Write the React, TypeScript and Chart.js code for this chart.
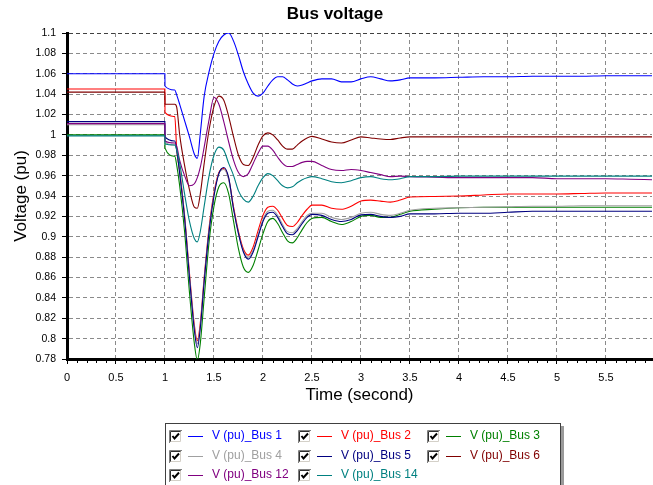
import React, { useEffect, useRef } from 'react';
import { Chart, registerables } from 'chart.js';

Chart.register(...registerables);

const TITLE = 'Bus voltage';
const X_TITLE = 'Time (second)';
const Y_TITLE = 'Voltage (pu)';

const TIME = [0, 0.999, 1.0, 1.1, 1.12, 1.15, 1.2, 1.25, 1.3, 1.33, 1.36, 1.4, 1.45, 1.5, 1.55, 1.6, 1.65, 1.7, 1.75, 1.8, 1.85, 1.9, 1.95, 2.0, 2.05, 2.1, 2.15, 2.2, 2.25, 2.3, 2.35, 2.4, 2.45, 2.5, 2.6, 2.7, 2.8, 2.9, 3.0, 3.1, 3.2, 3.3, 3.4, 3.5, 3.75, 4.0, 4.25, 4.5, 4.75, 5.0, 5.25, 5.5, 5.75, 5.97];

const BUS1 = [1.06, 1.06, 1.048, 1.044, 1.039, 1.030, 1.014, 0.998, 0.981, 0.977, 1.001, 1.038, 1.062, 1.080, 1.092, 1.098, 1.100, 1.092, 1.078, 1.062, 1.050, 1.041, 1.038, 1.041, 1.048, 1.054, 1.057, 1.057, 1.054, 1.050, 1.048, 1.049, 1.051, 1.053, 1.055, 1.055, 1.052, 1.052, 1.055, 1.057, 1.055, 1.053, 1.054, 1.056, 1.056, 1.0565, 1.057, 1.057, 1.0575, 1.0575, 1.0575, 1.058, 1.058, 1.058];
const BUS2 = [1.045, 1.045, 1.022, 1.018, 0.985, 0.965, 0.921, 0.864, 0.813, 0.798, 0.815, 0.860, 0.909, 0.943, 0.963, 0.967, 0.957, 0.929, 0.905, 0.888, 0.882, 0.890, 0.906, 0.921, 0.929, 0.930, 0.926, 0.918, 0.911, 0.910, 0.914, 0.921, 0.927, 0.931, 0.931, 0.928, 0.927, 0.930, 0.935, 0.936, 0.935, 0.934, 0.936, 0.939, 0.9395, 0.940, 0.941, 0.942, 0.942, 0.942, 0.9425, 0.943, 0.943, 0.943];
const BUS3 = [1.0, 1.0, 0.987, 0.979, 0.970, 0.950, 0.905, 0.845, 0.795, 0.779, 0.795, 0.840, 0.895, 0.930, 0.949, 0.953, 0.942, 0.915, 0.888, 0.870, 0.865, 0.872, 0.887, 0.903, 0.915, 0.918, 0.913, 0.904, 0.896, 0.894, 0.899, 0.907, 0.914, 0.918, 0.919, 0.915, 0.912, 0.915, 0.920, 0.921, 0.919, 0.919, 0.922, 0.925, 0.927, 0.9285, 0.929, 0.929, 0.929, 0.929, 0.929, 0.929, 0.929, 0.929];
const BUS4 = [1.010, 1.010, 0.993, 0.990, 0.984, 0.963, 0.919, 0.862, 0.810, 0.795, 0.812, 0.858, 0.907, 0.941, 0.962, 0.966, 0.956, 0.927, 0.903, 0.886, 0.880, 0.887, 0.902, 0.917, 0.925, 0.926, 0.921, 0.912, 0.905, 0.904, 0.908, 0.915, 0.921, 0.923, 0.923, 0.919, 0.917, 0.919, 0.923, 0.924, 0.922, 0.921, 0.923, 0.926, 0.928, 0.9285, 0.929, 0.9295, 0.930, 0.930, 0.9305, 0.9305, 0.9305, 0.9305];
const BUS5 = [1.013, 1.013, 0.998, 0.994, 0.985, 0.962, 0.918, 0.860, 0.808, 0.791, 0.810, 0.856, 0.905, 0.940, 0.962, 0.968, 0.958, 0.927, 0.903, 0.885, 0.878, 0.885, 0.900, 0.915, 0.923, 0.924, 0.919, 0.910, 0.903, 0.902, 0.906, 0.913, 0.919, 0.922, 0.921, 0.917, 0.915, 0.917, 0.9215, 0.922, 0.920, 0.919, 0.920, 0.9225, 0.9225, 0.923, 0.923, 0.924, 0.925, 0.925, 0.925, 0.925, 0.925, 0.925];
const BUS6 = [1.042, 1.042, 1.030, 1.030, 1.027, 1.000, 0.970, 0.946, 0.929, 0.928, 0.942, 0.972, 1.005, 1.028, 1.038, 1.034, 1.018, 0.998, 0.980, 0.971, 0.970, 0.978, 0.990, 0.999, 1.002, 1.000, 0.995, 0.989, 0.986, 0.986, 0.990, 0.994, 0.997, 0.9985, 0.996, 0.993, 0.992, 0.995, 0.998, 0.997, 0.996, 0.9955, 0.997, 0.998, 0.998, 0.998, 0.998, 0.998, 0.998, 0.998, 0.998, 0.998, 0.998, 0.998];
const BUS12 = [1.011, 1.011, 0.994, 0.992, 0.989, 0.975, 0.960, 0.950, 0.952, 0.958, 0.968, 0.988, 1.015, 1.037, 1.030, 1.013, 0.993, 0.975, 0.963, 0.959, 0.962, 0.972, 0.982, 0.989, 0.989, 0.985, 0.978, 0.972, 0.969, 0.969, 0.971, 0.973, 0.974, 0.974, 0.970, 0.966, 0.965, 0.966, 0.965, 0.963, 0.961, 0.959, 0.9595, 0.959, 0.9585, 0.958, 0.958, 0.958, 0.958, 0.957, 0.957, 0.957, 0.9565, 0.956];
const BUS14 = [0.999, 0.999, 0.991, 0.990, 0.985, 0.972, 0.942, 0.915, 0.898, 0.895, 0.905, 0.930, 0.960, 0.980, 0.988, 0.985, 0.972, 0.960, 0.945, 0.937, 0.934, 0.940, 0.950, 0.958, 0.962, 0.960, 0.955, 0.950, 0.948, 0.949, 0.953, 0.956, 0.958, 0.959, 0.957, 0.954, 0.953, 0.955, 0.958, 0.959, 0.957, 0.956, 0.957, 0.959, 0.959, 0.9595, 0.9595, 0.9595, 0.9595, 0.9595, 0.9595, 0.9595, 0.9595, 0.9595];

const LABELS = ['V (pu)_Bus 1', 'V (pu)_Bus 2', 'V (pu)_Bus 3', 'V (pu)_Bus 4', 'V (pu)_Bus 5', 'V (pu)_Bus 6', 'V (pu)_Bus 12', 'V (pu)_Bus 14'];
const VALUES = [BUS1, BUS2, BUS3, BUS4, BUS5, BUS6, BUS12, BUS14];
const COLORS = ['#0000ff', '#ff0000', '#008000', '#a0a0a0', '#000080', '#800000', '#800080', '#008080'];

const X_MIN = 0;
const X_MAX = 5.97;
const X_STEP = 0.5;
const Y_MIN = 0.78;
const Y_MAX = 1.1;
const Y_STEP = 0.02;

const FONT = '"Liberation Sans", Arial, sans-serif';

const decorPlugin = {
  id: 'decor',
  afterDraw(chart: any) {
    const { ctx, chartArea, scales } = chart;
    ctx.save();
    // title
    ctx.font = `bold 17px ${FONT}`;
    ctx.fillStyle = '#000';
    ctx.textAlign = 'center';
    ctx.textBaseline = 'alphabetic';
    ctx.fillText(TITLE, 335, 19);

    // minor x ticks
    const xs = scales.x;
    ctx.strokeStyle = '#000';
    ctx.lineWidth = 1;
    for (let i = 1; i * 0.1 <= xs.max + 1e-9; i++) {
      if (i % 5 === 0) continue;
      const px = Math.round(xs.getPixelForValue(i * 0.1)) + 0.5;
      ctx.beginPath();
      ctx.moveTo(px, chartArea.bottom + 1);
      ctx.lineTo(px, chartArea.bottom + 4);
      ctx.stroke();
    }

    // legend box
    const bx = 165, by = 423, bw = 395, bh = 80;
    ctx.fillStyle = '#9a9a9a';
    ctx.fillRect(bx + bw + 1, by + 3, 3, bh);
    ctx.fillStyle = '#ffffff';
    ctx.fillRect(bx, by, bw, bh);
    ctx.strokeStyle = '#404040';
    ctx.lineWidth = 1;
    ctx.strokeRect(bx + 0.5, by + 0.5, bw, bh);

    const ds = chart.data.datasets;
    ctx.font = `12px ${FONT}`;
    ctx.textAlign = 'left';
    ctx.textBaseline = 'middle';
    ds.forEach((d: any, i: number) => {
      const col = i % 3;
      const row = Math.floor(i / 3);
      const cx = 169 + col * 129;
      const cyi = Math.round(430 + row * 19.5);
      // checkbox
      ctx.fillStyle = '#ffffff';
      ctx.fillRect(cx, cyi, 13, 13);
      ctx.strokeStyle = '#808080';
      ctx.beginPath();
      ctx.moveTo(cx + 0.5, cyi + 13);
      ctx.lineTo(cx + 0.5, cyi + 0.5);
      ctx.lineTo(cx + 13, cyi + 0.5);
      ctx.stroke();
      ctx.strokeStyle = '#303030';
      ctx.beginPath();
      ctx.moveTo(cx + 1.5, cyi + 12);
      ctx.lineTo(cx + 1.5, cyi + 1.5);
      ctx.lineTo(cx + 12, cyi + 1.5);
      ctx.stroke();
      ctx.strokeStyle = '#d4d0c8';
      ctx.beginPath();
      ctx.moveTo(cx + 1.5, cyi + 11.5);
      ctx.lineTo(cx + 11.5, cyi + 11.5);
      ctx.lineTo(cx + 11.5, cyi + 1.5);
      ctx.stroke();
      ctx.strokeStyle = '#000';
      ctx.lineWidth = 2;
      ctx.beginPath();
      ctx.moveTo(cx + 3.5, cyi + 6);
      ctx.lineTo(cx + 5.5, cyi + 8.5);
      ctx.lineTo(cx + 10, cyi + 3.5);
      ctx.stroke();
      ctx.lineWidth = 1;
      // line sample
      ctx.strokeStyle = d.borderColor;
      ctx.beginPath();
      ctx.moveTo(cx + 19, cyi + 6.5);
      ctx.lineTo(cx + 34, cyi + 6.5);
      ctx.stroke();
      // text
      ctx.fillStyle = d.borderColor;
      ctx.fillText(d.label, cx + 43, cyi + 6);
    });
    ctx.restore();
  },
};

export default function App() {
  const ref = useRef<HTMLCanvasElement | null>(null);
  useEffect(() => {
    document.body.style.margin = '0';
    const canvas = ref.current;
    if (!canvas) return;
    const datasets = LABELS.map((label, i) => ({
      label,
      data: TIME.map((t, j) => ({ x: t, y: VALUES[i][j] })),
      borderColor: COLORS[i],
      backgroundColor: COLORS[i],
      borderWidth: 1.1,
      pointRadius: 0,
      fill: false,
      order: LABELS.length - i,
      cubicInterpolationMode: 'monotone' as const,
    }));
    const gridColor = (c: any) => (c.tick && Math.abs(c.tick.value - Y_MAX) < 1e-6 ? '#404040' : '#8a8a8a');
    const chart = new Chart(canvas, {
      type: 'line',
      data: { datasets },
      options: {
        responsive: false,
        animation: false,
        devicePixelRatio: 1,
        layout: { padding: { top: 33, right: 1, bottom: 79, left: 0 } },
        plugins: {
          legend: { display: false },
          title: { display: false },
          tooltip: { enabled: false },
        },
        scales: {
          x: {
            type: 'linear',
            min: X_MIN,
            max: X_MAX,
            afterFit: (s: any) => { s.height = 47; },
            ticks: {
              stepSize: X_STEP,
              includeBounds: false,
              autoSkip: false,
              maxRotation: 0,
              color: '#000',
              padding: 7,
              font: { family: FONT, size: 11 },
              callback: (v: any) => String(Math.round(Number(v) * 10) / 10),
            },
            grid: { color: '#8a8a8a', lineWidth: 1, tickLength: 5, tickColor: '#000' },
            border: { display: true, color: '#000', width: 3, dash: [4, 3] },
            title: {
              display: true,
              text: X_TITLE,
              color: '#000',
              font: { family: FONT, size: 17 },
              padding: { top: 0, bottom: 0 },
            },
          },
          y: {
            type: 'linear',
            min: Y_MIN,
            max: Y_MAX,
            afterFit: (s: any) => { s.width = 67; },
            ticks: {
              stepSize: Y_STEP,
              autoSkip: false,
              color: '#000',
              padding: 6,
              font: { family: FONT, size: 10.5 },
              callback: (v: any) => String(Math.round(Number(v) * 100) / 100),
            },
            grid: { color: gridColor, lineWidth: 1, tickLength: 5, tickColor: '#000' },
            border: { display: true, color: '#000', width: 3, dash: [4, 3] },
            title: {
              display: true,
              text: Y_TITLE,
              color: '#000',
              font: { family: FONT, size: 17 },
              padding: { top: 11, bottom: 0 },
            },
          },
        },
      },
      plugins: [decorPlugin],
    } as any);
    return () => chart.destroy();
  }, []);
  return (
    <div style={{ position: 'absolute', left: 0, top: 0 }}>
      <canvas ref={ref} width={653} height={485} style={{ display: 'block' }} />
    </div>
  );
}
